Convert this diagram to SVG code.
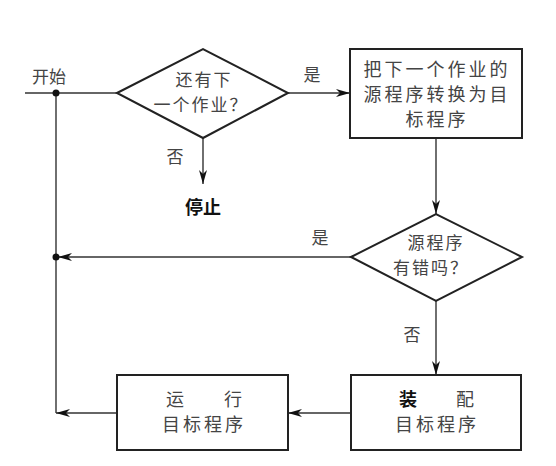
<svg xmlns="http://www.w3.org/2000/svg" width="556" height="466" viewBox="0 0 556 466">
<style>
.t{font-family:"Noto Sans CJK SC","Noto Sans",sans-serif;font-size:18px;fill:#444;text-anchor:middle;letter-spacing:3px}
.d{font-size:17px;letter-spacing:2px}
.l{font-family:"Noto Sans CJK SC","Noto Sans",sans-serif;font-size:17px;fill:#444;text-anchor:middle}
.b{font-weight:bold;fill:#111}
.shape{fill:#fff;stroke:#222;stroke-width:2}
.c{fill:none;stroke:#333;stroke-width:1.4}
</style>
<defs>
<marker id="ah" markerUnits="userSpaceOnUse" markerWidth="16" markerHeight="10" refX="14" refY="4" orient="auto">
<path d="M0,0 L14,4 L0,8 L4,4 Z" fill="#111"/>
</marker>
</defs>
<rect width="556" height="466" fill="#fff"/>
<g id="connectors">
<line class="c" x1="25" y1="93" x2="117" y2="93"/>
<line class="c" x1="56" y1="93" x2="56" y2="413"/>
<line class="c" x1="203" y1="138" x2="203" y2="184" marker-end="url(#ah)"/>
<line class="c" x1="288" y1="93" x2="350" y2="93" marker-end="url(#ah)"/>
<line class="c" x1="436" y1="138" x2="436" y2="214" marker-end="url(#ah)"/>
<line class="c" x1="351" y1="257" x2="58" y2="257" marker-end="url(#ah)"/>
<line class="c" x1="436" y1="301" x2="436" y2="375" marker-end="url(#ah)"/>
<line class="c" x1="351" y1="413" x2="288" y2="413" marker-end="url(#ah)"/>
<line class="c" x1="117" y1="413" x2="56" y2="413" marker-end="url(#ah)"/>
<circle cx="56" cy="93" r="3.5" fill="#111"/>
<circle cx="56" cy="257" r="3.5" fill="#111"/>
<text class="l" x="49" y="83">开始</text>
<text class="l" x="312" y="81">是</text>
<text class="l" x="175" y="163">否</text>
<text class="l" x="320" y="244">是</text>
<text class="l" x="412" y="341">否</text>
</g>
<g id="more">
<polygon class="shape" points="117,93 203,49 288,93 203,138"/>
<text class="t d" x="204" y="86">还有下</text>
<text class="t d" x="201" y="111">一个作业？</text>
</g>
<g id="stop">
<text class="l b" x="203" y="214" style="font-size:18px">停止</text>
</g>
<g id="convert">
<rect class="shape" x="350" y="49" width="172" height="89"/>
<text class="t" x="437" y="76">把下一个作业的</text>
<text class="t" x="437" y="101">源程序转换为目</text>
<text class="t" x="437" y="126">标程序</text>
</g>
<g id="error">
<polygon class="shape" points="351,257 436,214 522,257 436,301"/>
<text class="t d" x="436" y="249">源程序</text>
<text class="t d" x="431" y="274">有错吗？</text>
</g>
<g id="assemble">
<rect class="shape" x="351" y="375" width="170" height="75"/>
<text class="t b" x="408" y="406" style="letter-spacing:0">装</text>
<text class="t" x="465" y="406" style="letter-spacing:0">配</text>
<text class="t" x="437" y="431">目标程序</text>
</g>
<g id="run">
<rect class="shape" x="117" y="375" width="171" height="75"/>
<text class="t" x="175" y="406" style="letter-spacing:0">运</text>
<text class="t" x="233" y="406" style="letter-spacing:0">行</text>
<text class="t" x="204" y="431">目标程序</text>
</g>
</svg>
